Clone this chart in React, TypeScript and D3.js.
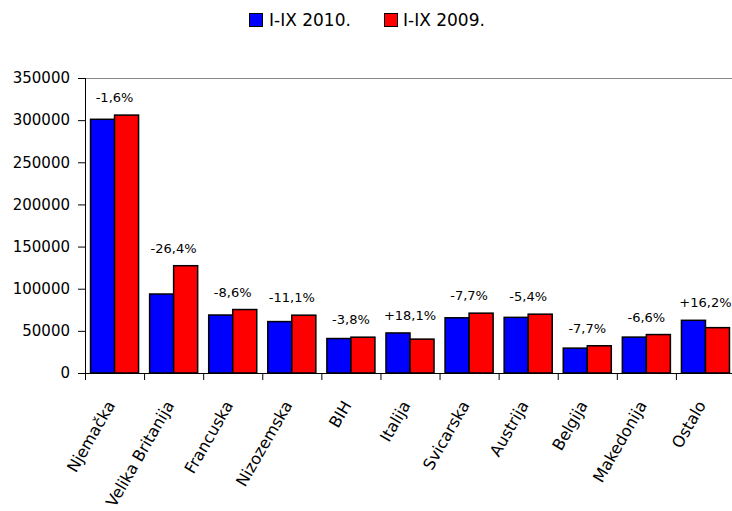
import React, { useEffect, useRef } from 'react';
import * as d3 from 'd3';

const width = 732;
const height = 511;
const margin = { top: 78, right: -3, bottom: 138, left: 85 };
const colors = ['#0000ff', '#ff0000'];

const countries = ['Njemačka', 'Velika Britanija', 'Francuska', 'Nizozemska', 'BIH', 'Italija', 'Svicarska', 'Austrija', 'Belgija', 'Makedonija', 'Ostalo'];
const series = ['I-IX 2010.', 'I-IX 2009.'];
const values2010 = [301000, 93700, 68800, 61000, 40900, 47500, 65500, 66000, 29500, 42600, 62500];
const values2009 = [306000, 127300, 75300, 68600, 42500, 40200, 71000, 69800, 32300, 45600, 53800];
const changes = ['-1,6%', '-26,4%', '-8,6%', '-11,1%', '-3,8%', '+18,1%', '-7,7%', '-5,4%', '-7,7%', '-6,6%', '+16,2%'];
const yTicks = [0, 50000, 100000, 150000, 200000, 250000, 300000, 350000];

const font = '"DejaVu Sans", sans-serif';

export default function App() {
  const yAxisRef = useRef<SVGGElement>(null);

  const x0 = d3.scaleBand().domain(countries).range([margin.left, width - margin.right]).padding(0);
  const x1 = d3.scaleBand().domain(series).range([0, x0.bandwidth()]).paddingInner(0).paddingOuter(0.23);
  const y = d3.scaleLinear().domain([0, 350000]).range([height - margin.bottom, margin.top]);

  useEffect(() => {
    const yAxis = d3.axisLeft(y).tickValues(yTicks).tickSize(7).tickPadding(8).tickFormat(d3.format('d'));
    const g = d3.select(yAxisRef.current);
    g.call(yAxis as any);
    g.select('.domain').remove();
    g.selectAll('text').attr('font-family', font).attr('font-size', 15).attr('fill', '#000');
    g.selectAll('line').attr('stroke', '#000');
  }, []);

  const y0 = y(0);
  const rows = countries.map((c, i) => ({ c, vals: [values2010[i], values2009[i]], label: changes[i] }));

  return (
    <svg width={width} height={height} style={{ position: 'absolute', left: 0, top: 0, background: '#fff' }}>
      {/* legend */}
      <g fontFamily={font} fontSize={17}>
        <rect x={249.5} y={13.5} width={13} height={13} fill={colors[0]} stroke="#000" />
        <text x={269} y={26}>{series[0]}</text>
        <rect x={384.5} y={13.5} width={13} height={13} fill={colors[1]} stroke="#000" />
        <text x={403} y={26}>{series[1]}</text>
      </g>

      {/* plot top border */}
      <line x1={margin.left} x2={width} y1={margin.top + 0.5} y2={margin.top + 0.5} stroke="#888" />

      {/* bars */}
      {rows.map((r) => (
        <g key={r.c} transform={`translate(${x0(r.c)},0)`}>
          {r.vals.map((v, j) => (
            <rect key={j} x={x1(series[j])} y={y(v)} width={x1.bandwidth()} height={y0 - y(v)}
              fill={colors[j]} stroke="#000" strokeWidth={1.5} />
          ))}
          <text x={x0.bandwidth() / 2} y={y(Math.max(...r.vals)) - 13} textAnchor="middle"
            fontFamily={font} fontSize={13} fill="#000">{r.label}</text>
        </g>
      ))}

      {/* axes */}
      <g ref={yAxisRef} transform={`translate(${margin.left},0)`} />
      <line x1={margin.left + 0.5} x2={margin.left + 0.5} y1={margin.top} y2={y0 + 7} stroke="#000" />
      <line x1={margin.left} x2={width} y1={y0 + 0.5} y2={y0 + 0.5} stroke="#000" />
      {countries.map((c) => (
        <line key={c} x1={x0(c)! + 0.5} x2={x0(c)! + 0.5} y1={y0} y2={y0 + 7} stroke="#000" />
      ))}
      {countries.map((c) => {
        const cx = x0(c)! + x0.bandwidth() / 2 + 1;
        return (
          <text key={c} transform={`translate(${cx},${y0 + 32}) rotate(-60)`} textAnchor="end"
            fontFamily={font} fontSize={16} fill="#000">{c}</text>
        );
      })}
    </svg>
  );
}
